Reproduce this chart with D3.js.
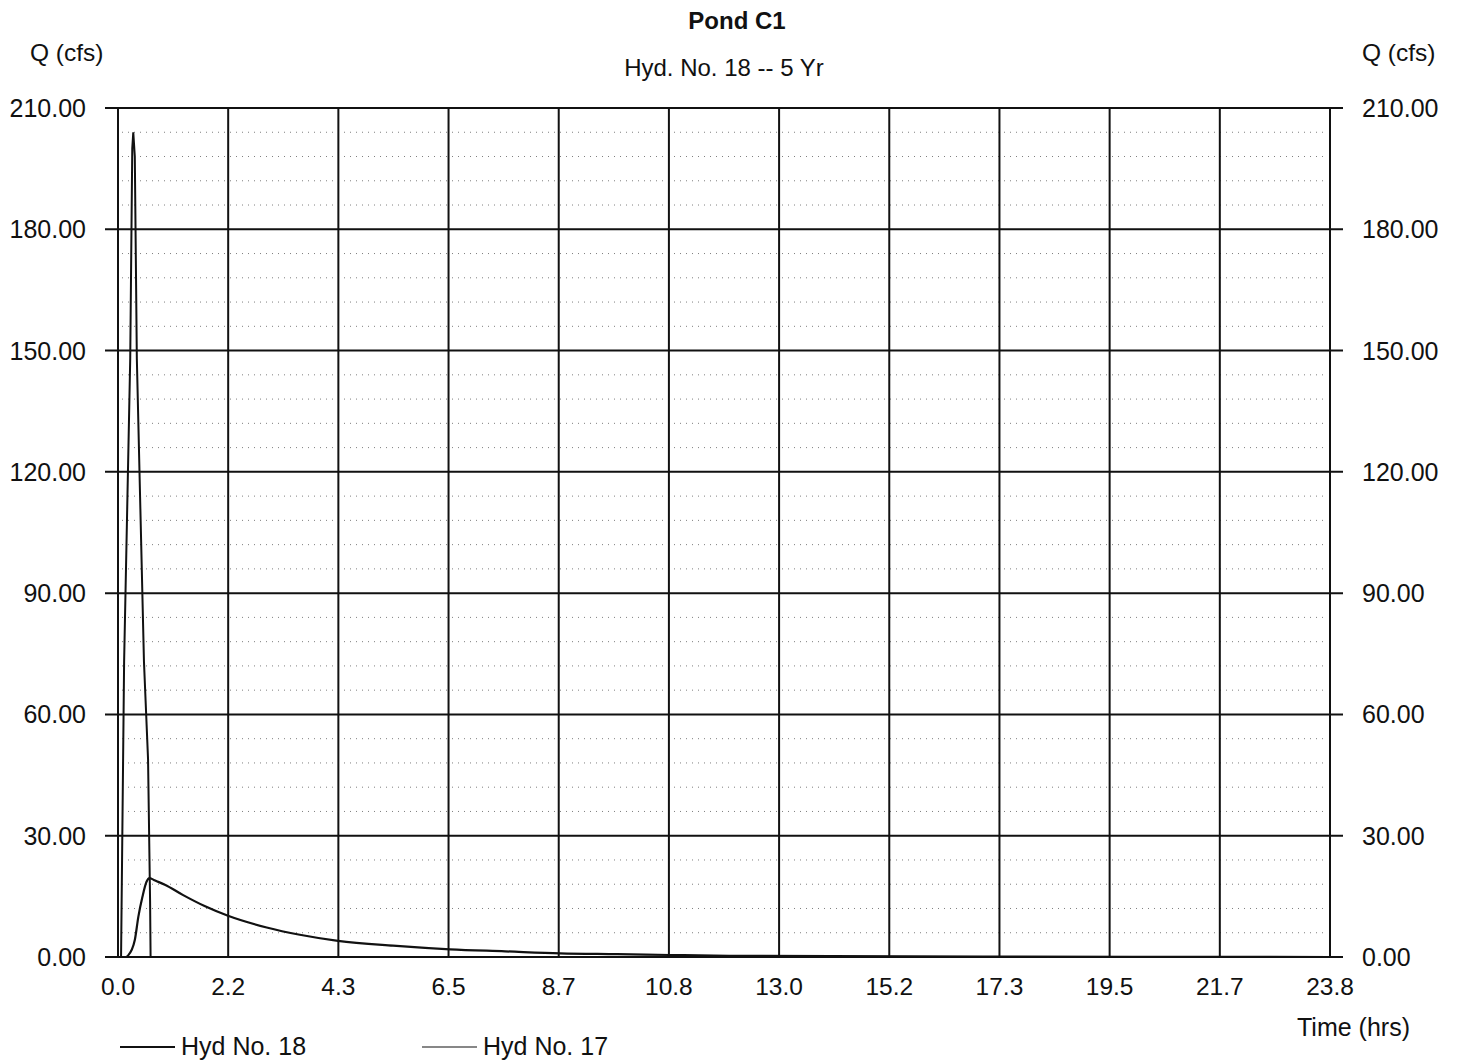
<!DOCTYPE html>
<html>
<head>
<meta charset="utf-8">
<script src="https://cdn.jsdelivr.net/npm/d3@7"></script>
<style>
  body { margin: 0; background: #fff; }
  text { font-family: "Liberation Sans", Arial, sans-serif; fill: #111; }
</style>
</head>
<body>
<div id="chart"></div>
<script>
// tick labels as printed on the chart
var xTickLabels = ["0.0", "2.2", "4.3", "6.5", "8.7", "10.8", "13.0", "15.2", "17.3", "19.5", "21.7", "23.8"];
var yTickValues = [0, 30, 60, 90, 120, 150, 180, 210];

// Hyd No. 18 (outflow) - time (hrs) / Q (cfs)
var hyd18Time = [0, 0.15, 0.2, 0.33, 0.40, 0.48, 0.56, 0.62, 0.73, 0.92, 1.28, 1.7, 2.16, 2.92, 3.57, 4.32, 5.4, 6.52, 7.6, 8.68, 9.8, 10.84, 12.0, 14.0, 17.0, 20.0, 23.8];
var hyd18Flow = [0, 0, 0.4, 4.2, 10.0, 14.9, 18.6, 19.5, 18.9, 17.9, 15.3, 12.6, 10.2, 7.3, 5.5, 4.0, 2.8, 1.9, 1.4, 0.9, 0.7, 0.5, 0.3, 0.2, 0.1, 0.05, 0];

// Hyd No. 17 (inflow)
var hyd17Time = [0, 0.06, 0.12, 0.24, 0.28, 0.30, 0.33, 0.37, 0.51, 0.59, 0.63, 0.64, 2.0, 23.8];
var hyd17Flow = [0, 0, 73, 148, 200, 204, 198, 148, 73, 49, 14, 0, 0, 0];

var W = 1458, H = 1063;
var margin = {top: 108, right: 128, bottom: 106, left: 118};
var width = W - margin.left - margin.right,
    height = H - margin.top - margin.bottom;

var svg = d3.select("#chart")
  .append("svg")
    .attr("width", W)
    .attr("height", H);

var g = svg.append("g")
    .attr("transform", `translate(${margin.left},${margin.top})`);

var x = d3.scaleLinear().domain([0, 23.8]).range([0, width]);
var y = d3.scaleLinear().domain([0, 210]).range([height, 0]);

var xTicks = xTickLabels.map((d, i) => i * 23.8 / (xTickLabels.length - 1));

// minor dotted grid every 6 cfs
var minor = d3.range(6, 210, 6).filter(v => v % 30 !== 0);
g.append("g")
  .selectAll("line")
  .data(minor)
  .join("line")
    .attr("x1", 4)
    .attr("x2", width - 4)
    .attr("y1", d => y(d))
    .attr("y2", d => y(d))
    .attr("stroke", "#555")
    .attr("stroke-width", 1)
    .attr("stroke-dasharray", "1,5")
    .attr("opacity", 0.75);

// major horizontal grid, with ticks sticking out on both sides
g.append("g")
  .selectAll("line")
  .data(yTickValues)
  .join("line")
    .attr("x1", -13)
    .attr("x2", width + 13)
    .attr("y1", d => y(d))
    .attr("y2", d => y(d))
    .attr("stroke", "#111")
    .attr("stroke-width", 2);

// vertical grid
g.append("g")
  .selectAll("line")
  .data(xTicks)
  .join("line")
    .attr("x1", d => x(d))
    .attr("x2", d => x(d))
    .attr("y1", 0)
    .attr("y2", height)
    .attr("stroke", "#111")
    .attr("stroke-width", 2);

// y labels left & right
g.append("g")
  .selectAll("text")
  .data(yTickValues)
  .join("text")
    .attr("x", -32)
    .attr("y", d => y(d) + 9)
    .attr("text-anchor", "end")
    .style("font-size", "25px")
    .text(d => d3.format(".2f")(d));

g.append("g")
  .selectAll("text")
  .data(yTickValues)
  .join("text")
    .attr("x", width + 32)
    .attr("y", d => y(d) + 9)
    .attr("text-anchor", "start")
    .style("font-size", "25px")
    .text(d => d3.format(".2f")(d));

// x labels
g.append("g")
  .selectAll("text")
  .data(xTicks)
  .join("text")
    .attr("x", d => x(d))
    .attr("y", height + 38)
    .attr("text-anchor", "middle")
    .style("font-size", "24.5px")
    .text((d, i) => xTickLabels[i]);

// hydrographs
var line = d3.line()
  .x(d => x(d[0]))
  .y(d => y(d[1]));

g.append("path")
  .datum(hyd17Time.map((t, i) => [t, hyd17Flow[i]]))
  .attr("d", line)
  .attr("fill", "none")
  .attr("stroke", "#111")
  .attr("stroke-width", 2);

g.append("path")
  .datum(hyd18Time.map((t, i) => [t, hyd18Flow[i]]))
  .attr("d", d3.line().curve(d3.curveMonotoneX).x(d => x(d[0])).y(d => y(d[1])))
  .attr("fill", "none")
  .attr("stroke", "#111")
  .attr("stroke-width", 2.2);

// titles
svg.append("text")
  .attr("x", 737).attr("y", 29)
  .attr("text-anchor", "middle")
  .style("font-size", "24px")
  .style("font-weight", "bold")
  .text("Pond C1");

svg.append("text")
  .attr("x", 724).attr("y", 76)
  .attr("text-anchor", "middle")
  .style("font-size", "24px")
  .text("Hyd. No. 18 -- 5 Yr");

svg.append("text")
  .attr("x", 30).attr("y", 61)
  .style("font-size", "24.5px")
  .text("Q (cfs)");

svg.append("text")
  .attr("x", 1362).attr("y", 61)
  .style("font-size", "24.5px")
  .text("Q (cfs)");

svg.append("text")
  .attr("x", 1297).attr("y", 1036)
  .style("font-size", "25px")
  .text("Time (hrs)");

// legend
var legend = [{label: "Hyd No. 18", x: 120, w: 2}, {label: "Hyd No. 17", x: 422, w: 1.2}];
var lg = svg.append("g").selectAll("g").data(legend).join("g");
lg.append("line")
  .attr("x1", d => d.x).attr("x2", d => d.x + 55)
  .attr("y1", 1047).attr("y2", 1047)
  .attr("stroke", "#111")
  .attr("stroke-width", d => d.w);
lg.append("text")
  .attr("x", d => d.x + 61).attr("y", 1055)
  .style("font-size", "25px")
  .text(d => d.label);
</script>
</body>
</html>
